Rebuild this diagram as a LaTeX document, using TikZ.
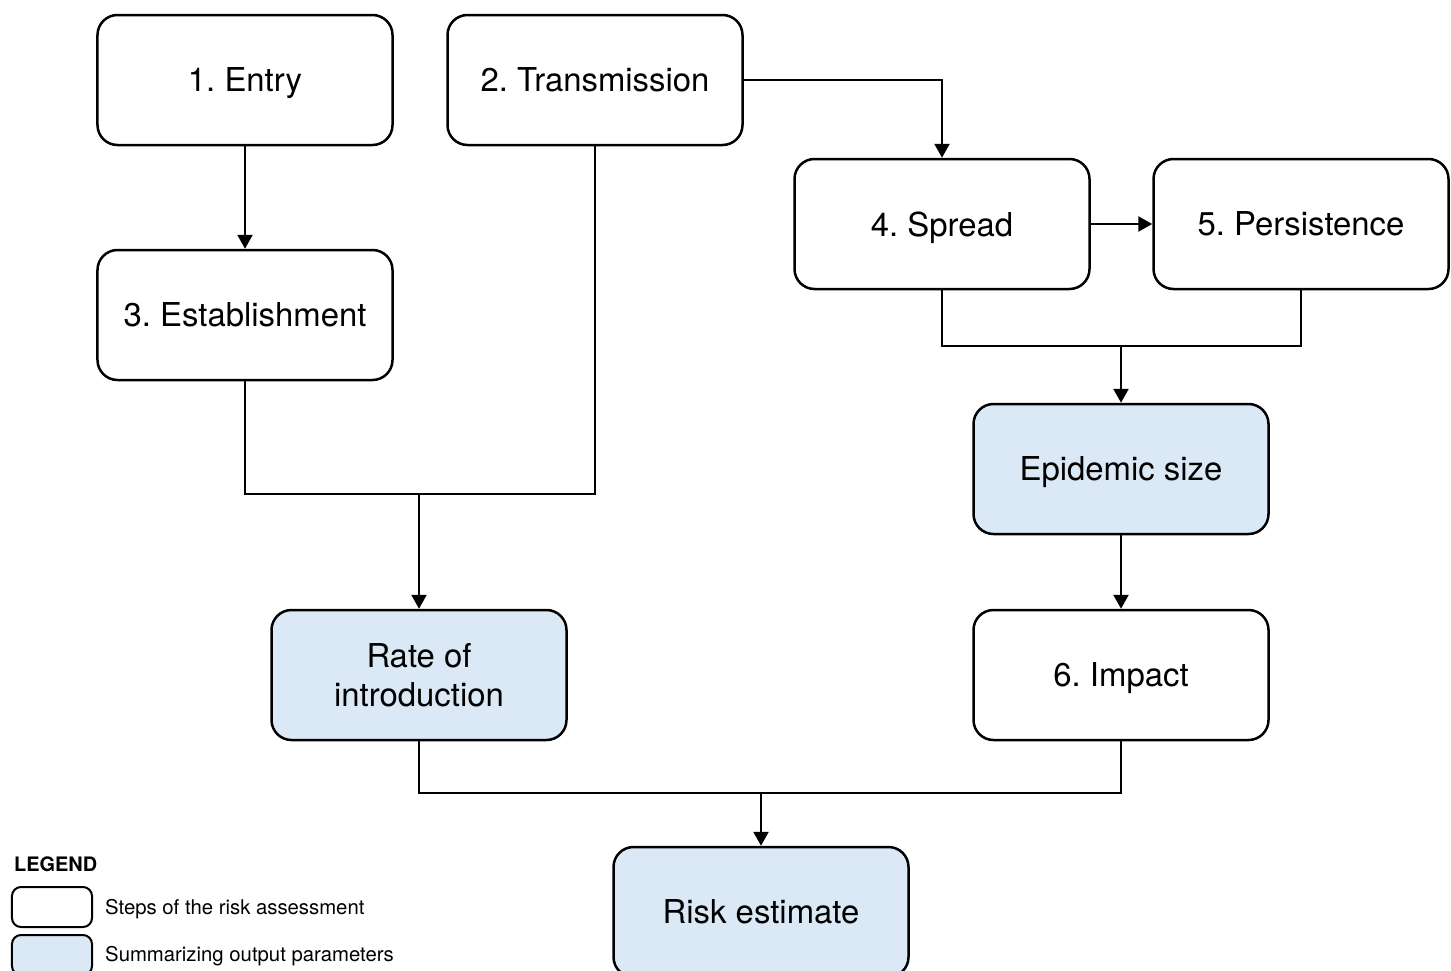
\documentclass[tikz,border=0pt]{standalone}
\usepackage{fontspec}
\setmainfont{TeX Gyre Heros}
\usetikzlibrary{arrows.meta}
\definecolor{outblue}{RGB}{219,232,245}
\tikzset{
  stepbox/.style={draw=black, line width=2.5bp, rounded corners=20bp, minimum width=295bp, minimum height=130bp, inner sep=0pt, fill=white, align=center, text depth=0pt, font=\fontsize{33}{39}\selectfont},
  outbox/.style={stepbox, fill=outblue},
  conn/.style={draw=black, line width=2.5bp},
  arr/.style={draw=black, line width=2.5bp, -{Triangle[length=14bp,width=15bp]}},
  legbox/.style={draw=black, line width=2bp, rounded corners=9bp, minimum width=80bp, minimum height=40bp, inner sep=0pt},
  legtext/.style={anchor=west, inner sep=0pt, font=\fontsize{20.4}{24}\selectfont}
}
\begin{document}
\frenchspacing
\begin{tikzpicture}[x=1bp,y=-1bp]
\useasboundingbox (0,0) rectangle (1451,970);
\begin{scope}
\clip (0,0) rectangle (1451,970);
\node[stepbox] (entry) at (245,80) {1. Entry};
\node[stepbox] (trans) at (595,80) {2. Transmission};
\node[stepbox] (estab) at (245,315) {3. Establishment};
\node[stepbox] (spread) at (942,224) {4. Spread};
\node[stepbox] (persist) at (1301,224) {5. Persistence};
\node[outbox] (epi) at (1121,469) {Epidemic size};
\node[outbox] (rate) at (419,675) {Rate of\\introduction};
\node[stepbox] (impact) at (1121,675) {6. Impact};
\node[outbox] (risk) at (761,912) {Risk estimate};

\coordinate (j1) at (419,494);
\coordinate (j2) at (1121,346);
\coordinate (j3) at (761,793);

\draw[arr] (entry) -- (estab);
\draw[arr] (trans.east) -| (spread.north);
\draw[arr] (spread) -- (persist);
\draw[conn] (spread.south) |- (j2);
\draw[conn] (persist.south) |- (j2);
\draw[arr] (j2) -- (epi.north);
\draw[arr] (epi) -- (impact);
\draw[conn] (estab.south) |- (j1);
\draw[conn] (trans.south) |- (j1);
\draw[arr] (j1) -- (rate.north);
\draw[conn] (rate.south) |- (j3);
\draw[conn] (impact.south) |- (j3);
\draw[arr] (j3) -- (risk.north);

\node[anchor=west, inner sep=0pt, font=\fontsize{20}{24}\selectfont\bfseries] (legend) at (14,864) {LEGEND};
\node[legbox, fill=white] (lb1) at (52,907) {};
\node[legbox, fill=outblue] (lb2) at (52,955) {};
\node[legtext] (lt1) at (105,909) {Steps of the risk assessment};
\node[legtext] (lt2) at (105,956) {Summarizing output parameters};
\end{scope}
\end{tikzpicture}
\end{document}
